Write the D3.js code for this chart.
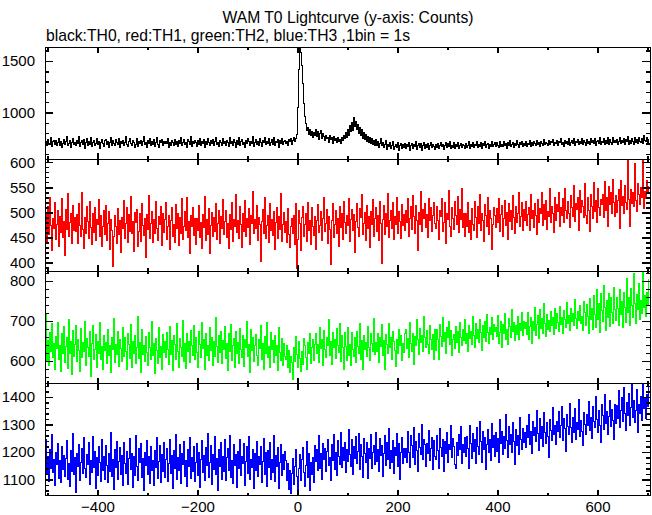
<!DOCTYPE html>
<html><head><meta charset="utf-8">
<script src="https://cdn.jsdelivr.net/npm/d3@7"></script>
<style>
body{margin:0;background:#fff}
svg{display:block}
text{font-family:"Liberation Sans",Arial,Helvetica,sans-serif}
</style>
</head><body>
<svg id="chart" width="652" height="515"></svg>
<script>
// ---- data: 2 s bins starting at t = -504 s (values read/estimated from the reference) ----
const binStart = -504;
const binWidth = 2;

const th0 = [
715,681,741,701,691,757,669,720,729,695,733,676,711,748,685,723,663,704,739,688,716,764,678,698,725,659,709,744,691,713,
680,729,698,765,671,712,734,690,736,656,706,744,683,719,694,754,667,713,732,678,701,753,687,723,653,708,737,697,674,727,
740,688,722,664,709,761,684,725,699,676,737,708,691,750,660,718,697,730,681,713,771,694,671,720,746,702,684,733,709,666,
690,747,670,715,702,734,677,723,768,687,709,666,727,697,746,680,716,692,739,674,712,757,695,657,725,705,741,683,719,699,
720,698,751,662,711,685,732,706,678,743,694,719,670,725,702,755,683,712,736,687,706,662,740,715,691,765,674,722,699,733,
705,673,726,695,748,680,715,699,737,663,718,688,753,706,676,729,697,741,684,722,760,692,711,667,730,713,680,747,698,718,
685,734,709,674,754,701,722,681,739,712,664,727,695,762,677,716,740,690,708,659,732,697,750,715,683,723,702,768,671,711,
737,692,718,680,744,705,669,729,709,755,687,720,698,747,676,713,736,695,758,684,719,706,741,666,725,701,751,690,715,733,
702,723,684,736,715,747,695,732,755,720,752,790,1050,1420,1635,1580,1460,1280,1090,960,892,828,851,787,836,774,819,758,806,781,
835,768,812,742,796,826,753,801,768,731,779,745,760,712,774,738,755,703,766,727,749,714,758,722,741,698,763,731,776,744,
802,758,836,781,871,812,899,830,952,861,913,834,881,796,852,775,833,752,808,741,789,722,771,708,758,697,744,689,731,676,
735,682,717,663,701,753,676,708,658,693,726,645,689,668,705,651,683,718,641,675,694,659,710,634,677,700,652,687,665,703,
650,686,667,711,637,678,699,654,690,669,721,644,681,703,660,696,633,676,710,653,688,664,700,643,682,707,657,692,672,646,
693,661,700,650,682,713,667,689,642,678,705,657,696,674,717,649,685,665,707,654,692,672,712,647,681,699,663,695,679,653,
699,665,684,717,653,691,672,706,657,695,679,721,661,688,668,712,649,698,681,724,664,686,702,656,693,675,716,667,689,705,
670,705,682,660,716,675,695,667,720,685,702,656,707,679,726,671,692,712,663,700,681,730,689,665,710,686,717,674,698,685,
719,673,702,690,727,667,709,684,715,697,676,733,692,708,670,722,699,683,739,688,713,702,678,729,694,718,705,741,681,711,
696,730,683,718,706,744,689,713,675,734,702,721,693,749,685,714,727,697,753,678,717,707,737,688,723,700,746,692,731,710,
678,737,702,720,690,752,709,727,696,745,683,716,732,700,758,692,721,710,748,688,725,704,755,695,735,714,690,760,706,730,
707,738,689,720,760,697,729,713,752,686,735,715,767,694,727,704,745,721,692,756,711,741,701,762,724,708,750,699,773,731,
718,762,702,742];

const th1 = [
498,441,512,456,530,473,423,487,468,519,445,476,503,432,491,460,527,449,482,414,505,466,538,452,480,497,437,514,463,489,
462,495,437,518,474,452,540,466,428,489,458,511,481,447,522,470,436,497,459,509,443,486,475,526,451,493,431,472,504,455,
513,444,478,501,426,486,463,392,451,494,472,438,507,455,483,419,490,468,524,447,477,509,440,496,462,532,457,482,421,499,
479,506,431,461,498,442,517,473,454,488,410,495,466,534,448,477,502,439,485,457,521,468,444,491,475,512,433,497,460,486,
520,446,471,493,425,484,509,452,476,440,515,467,498,433,489,458,527,445,472,501,464,530,449,482,418,493,471,510,453,487,
436,488,463,514,449,479,427,496,470,532,443,485,456,508,418,474,499,451,490,462,517,445,478,503,437,492,468,526,455,481,
504,450,477,428,495,466,519,441,486,472,535,459,483,447,511,475,430,497,461,524,452,488,469,507,436,493,478,542,457,485,
467,513,444,490,475,402,482,506,458,529,447,473,494,439,518,464,486,453,501,425,479,510,448,491,466,537,442,476,499,460,
481,440,507,455,429,472,488,458,494,436,518,387,445,503,477,423,489,512,452,476,498,441,520,464,484,435,509,471,453,492,
426,483,516,459,474,501,444,487,530,461,478,506,437,492,466,395,483,518,449,475,503,457,488,431,512,469,497,446,521,480,
458,493,474,527,441,486,505,463,496,420,482,517,470,451,508,489,535,456,477,499,443,514,468,491,430,502,476,525,452,487,
509,462,494,443,521,478,398,486,513,455,497,471,538,450,483,504,467,519,445,492,476,530,458,501,482,447,516,473,495,464,
503,479,527,452,488,511,466,534,491,457,514,483,423,499,476,541,462,506,487,518,470,495,449,528,484,509,461,493,520,477,
468,512,483,445,503,491,528,462,479,519,437,497,485,543,471,452,510,488,466,522,494,476,531,459,505,486,547,470,498,452,
497,471,520,459,483,446,508,475,463,522,489,450,511,477,535,464,498,483,442,516,493,471,530,456,504,487,425,475,510,494,
469,507,480,528,461,495,514,452,487,523,473,500,445,518,482,504,466,533,490,458,512,479,497,540,471,492,519,464,505,484,
521,474,496,510,463,535,488,504,470,518,493,455,526,480,507,498,540,473,515,486,524,466,502,492,548,479,511,497,459,529,
484,516,501,539,472,510,493,527,480,548,504,487,521,498,470,534,509,492,553,482,518,505,529,463,543,500,524,511,489,557,
494,478,529,503,461,536,512,487,559,501,524,480,548,509,493,526,516,535,490,561,504,529,471,552,515,539,498,566,520,492,
534,500,523,546,468,563,514,532,497,553,520,505,606,526,472,545,518,539,511,598,524,501,557,535,516,550,529,612,508,542,
528,563,540,551];

const th2 = [
720,601,652,588,671,623,694,610,645,579,662,631,697,605,640,574,668,618,686,597,636,659,582,703,620,648,566,677,612,641,
690,598,655,627,575,681,609,646,624,700,590,657,633,612,674,561,643,688,604,628,666,585,650,619,696,603,637,578,664,626,
647,593,680,615,639,571,660,629,706,596,642,617,675,587,653,632,600,684,611,658,624,578,669,641,607,692,583,650,620,663,
594,634,711,606,646,572,679,616,638,599,661,621,589,672,635,604,698,614,643,568,656,627,594,683,610,637,579,666,622,648,
608,671,630,592,687,617,652,576,663,641,603,694,625,585,657,634,612,702,598,645,581,668,623,650,596,677,639,613,690,604,
659,621,584,673,642,609,697,631,654,579,668,615,640,601,685,627,660,588,649,612,709,636,597,664,622,675,593,651,629,686,
606,645,577,668,624,691,602,638,657,583,674,619,646,595,682,628,609,663,587,653,634,700,611,642,571,679,626,658,599,640,
667,615,590,654,632,688,604,643,578,661,620,697,608,636,584,672,629,651,597,665,613,639,576,683,622,602,656,589,644,611,
603,640,585,626,571,612,596,553,634,598,661,617,583,649,606,573,625,592,657,638,610,580,646,619,668,594,633,655,601,642,
668,619,642,596,685,631,654,588,677,628,609,660,639,703,615,648,592,671,633,655,607,682,640,621,694,598,663,635,579,672,
636,601,684,615,642,588,671,629,611,660,597,674,637,619,695,605,652,580,663,628,646,612,686,634,601,669,643,623,707,616,
647,623,670,596,658,636,691,614,651,578,666,641,619,695,633,660,605,674,649,627,586,653,618,680,639,665,602,645,622,669,
678,631,656,609,697,645,623,669,591,661,638,703,654,616,682,647,665,624,711,658,633,676,642,619,689,653,628,666,604,680,
627,679,654,605,691,662,636,708,649,671,620,684,658,699,642,676,615,653,667,631,686,646,673,622,697,659,638,680,652,704,
644,669,623,688,657,675,641,712,663,634,693,656,679,647,705,671,626,689,660,698,650,717,672,643,684,666,709,654,691,675,
684,662,713,645,671,700,634,691,668,719,653,678,642,707,686,660,728,674,696,651,689,666,711,655,694,677,722,663,700,681,
697,667,722,653,686,709,644,700,676,735,663,691,714,657,728,682,706,669,743,695,661,717,680,702,673,724,689,708,666,731,
682,718,697,675,737,691,708,670,727,703,684,746,695,713,677,732,699,720,688,754,706,681,725,702,739,694,712,677,748,721,
690,741,712,668,756,703,731,679,763,717,684,779,705,744,672,770,726,698,788,733,676,752,709,769,687,759,721,695,783,728,
702,758,731,690,779,716,749,684,771,735,697,806,722,760,688,781,739,709,818,745,693,767,728,795,705,752,719,826,734,763,
712,771,739,803];

const th3 = [
1245,1118,1183,1092,1210,1140,1262,1125,1171,1078,1198,1153,1231,1104,1167,1089,1220,1135,1188,1110,1176,1241,1098,1159,1074,1205,1130,1266,1117,1180,
1051,1193,1146,1228,1095,1162,1213,1121,1251,1139,1107,1190,1155,1236,1083,1169,1124,1257,1142,1201,1068,1178,1115,1219,1160,1093,1247,1133,1185,1101,
1224,1150,1087,1196,1128,1270,1112,1173,1062,1208,1144,1238,1099,1165,1216,1119,1187,1076,1233,1157,1123,1203,1081,1175,1249,1136,1194,1070,1182,1113,
1259,1148,1096,1211,1163,1229,1106,1177,1058,1199,1151,1240,1116,1184,1085,1221,1131,1170,1079,1206,1143,1254,1102,1166,1225,1090,1189,1127,1235,1108,
1172,1214,1093,1158,1247,1120,1186,1067,1204,1141,1263,1099,1179,1132,1226,1084,1193,1154,1238,1111,1168,1075,1209,1147,1252,1103,1181,1129,1219,1091,
1160,1232,1115,1197,1071,1174,1243,1126,1188,1097,1215,1152,1268,1108,1163,1222,1082,1191,1137,1255,1119,1176,1060,1207,1145,1234,1100,1183,1128,1246,
1094,1178,1212,1134,1261,1105,1169,1086,1227,1149,1192,1072,1201,1139,1244,1113,1185,1157,1230,1077,1166,1218,1122,1256,1098,1174,1143,1209,1065,1195,
1131,1239,1110,1182,1153,1221,1089,1164,1250,1117,1197,1074,1206,1142,1233,1101,1171,1125,1258,1092,1186,1147,1215,1068,1161,1227,1114,1190,1137,1203,
1168,1097,1158,1063,1134,1048,1121,1176,1082,1145,1207,1111,1043,1138,1190,1094,1172,1215,1126,1075,1149,1237,1105,1196,1058,1160,1118,1181,1087,1222,
1164,1209,1132,1258,1141,1194,1100,1230,1173,1212,1128,1201,1246,1152,1179,1095,1226,1167,1263,1137,1198,1114,1240,1185,1155,1272,1143,1217,1170,1234,
1124,1207,1165,1281,1190,1146,1244,1118,1219,1176,1256,1158,1202,1267,1135,1228,1183,1108,1249,1194,1161,1236,1102,1213,1177,1262,1140,1199,1225,1153,
1271,1166,1210,1129,1248,1188,1224,1112,1196,1259,1150,1233,1174,1284,1138,1205,1163,1242,1120,1217,1186,1266,1145,1229,1101,1198,1253,1157,1214,1178,
1213,1161,1276,1199,1142,1258,1223,1180,1290,1153,1237,1204,1127,1268,1216,1189,1301,1171,1245,1226,1148,1232,1194,1279,1167,1211,1253,1136,1241,1185,
1171,1258,1205,1141,1287,1216,1183,1245,1127,1237,1196,1272,1161,1226,1209,1295,1178,1250,1218,1153,1140,1236,1188,1264,1210,1292,1159,1227,1198,1254,
1182,1257,1214,1141,1296,1232,1175,1268,1203,1247,1156,1289,1220,1190,1311,1238,1163,1274,1209,1251,1137,1226,1283,1198,1244,1170,1302,1216,1259,1185,
1269,1201,1248,1162,1317,1230,1273,1189,1256,1214,1338,1243,1178,1291,1226,1265,1197,1309,1238,1154,1281,1222,1259,1191,1326,1247,1208,1284,1233,1270,
1215,1297,1252,1336,1228,1274,1193,1311,1260,1289,1237,1352,1266,1205,1323,1248,1291,1219,1344,1271,1232,1306,1257,1180,1318,1279,1243,1361,1262,1296,
1226,1312,1275,1349,1251,1298,1367,1240,1321,1285,1203,1338,1293,1262,1375,1289,1234,1327,1270,1358,1245,1306,1282,1391,1257,1316,1273,1222,1343,1299,
1264,1337,1296,1382,1278,1324,1249,1365,1310,1288,1401,1319,1271,1352,1297,1236,1374,1331,1283,1409,1305,1347,1262,1328,1389,1292,1356,1316,1244,1371,
1303,1368,1321,1424,1289,1352,1397,1312,1436,1340,1278,1381,1334,1413,1298,1362,1445,1325,1386,1307,1351,1428,1271,1374,1339,1402,1316,1447,1358,1393,
1322,1411,1365,1438];

const seriesNames = ["TH0","TH1","TH2","TH3"];
const seriesValues = [th0, th1, th2, th3];
const seriesColors = ["#000000","#ff0000","#00ff00","#0000ff"];
const yDomains = [[548,1635],[382,606],[544,824],[1040,1449]];
const yMajorTicks = [[1000,1500],[400,450,500,550,600],[600,700,800],[1100,1200,1300,1400]];
const yMinorTicks = [
  [600,700,800,900,1100,1200,1300,1400,1600],
  [390,410,420,430,440,460,470,480,490,510,520,530,540,560,570,580,590],
  [560,580,620,640,660,680,720,740,760,780,820],
  [1060,1080,1120,1140,1160,1180,1220,1240,1260,1280,1320,1340,1360,1380,1420,1440]
];
const xMajorTicks = [-400,-200,0,200,400,600];
const xMinorTicks = [-500,-300,-100,100,300,500,700];
const xDomain = [-505, 705];
const titleText = "WAM T0 Lightcurve (y-axis: Counts)";
const subtitleText = "black:TH0, red:TH1, green:TH2, blue:TH3 ,1bin = 1s";

// ---- layout ----
const left = 45, right = 650, top0 = 47, panelH = 112.2;
const svg = d3.select("#chart");
const x = d3.scaleLinear().domain(xDomain).range([left, right]);

svg.append("text").attr("x", 348).attr("y", 23).attr("text-anchor","middle")
  .attr("font-size", 15.7).text(titleText);
svg.append("text").attr("x", 46).attr("y", 41)
  .attr("font-size", 15.7).text(subtitleText);

function styleAxis(g, sw){
  g.select(".domain").remove();
  g.selectAll(".tick line").attr("stroke","#000").attr("stroke-width", sw).attr("shape-rendering","crispEdges");
  g.selectAll("text").attr("font-family",'"Liberation Sans",Arial,sans-serif').attr("font-size",15).attr("fill","#000");
}

seriesValues.forEach((vals, p) => {
  const y0 = top0 + p*panelH, y1 = y0 + panelH;
  const y = d3.scaleLinear().domain(yDomains[p]).range([y1, y0]);
  const clipId = "clip" + p;
  svg.append("clipPath").attr("id", clipId).append("rect")
    .attr("x", left).attr("y", y0).attr("width", right-left).attr("height", panelH);

  const data = vals.map((v,i) => ({t: binStart + i*binWidth, v}));
  const line = d3.line().x(d => x(d.t)).y(d => y(d.v)).curve(d3.curveStep);
  svg.append("path").datum(data)
    .attr("clip-path", `url(#${clipId})`)
    .attr("fill","none").attr("stroke", seriesColors[p]).attr("stroke-width", 1)
    .attr("shape-rendering","crispEdges")
    .attr("d", line);

  // frame
  svg.append("rect").attr("x", left).attr("y", y0).attr("width", right-left).attr("height", panelH)
    .attr("fill","none").attr("stroke","#000").attr("stroke-width",1).attr("shape-rendering","crispEdges");

  // x ticks, bottom & top (inward)
  const gb = svg.append("g").attr("transform",`translate(0,${y1})`)
    .call(d3.axisBottom(x).tickValues(xMajorTicks).tickSize(-6).tickPadding(5)
      .tickFormat(p === 3 ? d3.format("d") : ""));
  styleAxis(gb, 2);
  gb.selectAll("text").attr("dy","0.75em");
  styleAxis(svg.append("g").attr("transform",`translate(0,${y1})`)
    .call(d3.axisBottom(x).tickValues(xMinorTicks).tickSize(-3).tickFormat("")), 2);
  styleAxis(svg.append("g").attr("transform",`translate(0,${y0})`)
    .call(d3.axisTop(x).tickValues(xMajorTicks).tickSize(-6).tickFormat("")), 2);
  styleAxis(svg.append("g").attr("transform",`translate(0,${y0})`)
    .call(d3.axisTop(x).tickValues(xMinorTicks).tickSize(-3).tickFormat("")), 2);

  // y ticks, left & right (inward)
  styleAxis(svg.append("g").attr("transform",`translate(${left},0)`)
    .call(d3.axisLeft(y).tickValues(yMajorTicks[p]).tickSize(-8).tickPadding(10).tickFormat(d3.format("d"))), 1.5);
  styleAxis(svg.append("g").attr("transform",`translate(${left},0)`)
    .call(d3.axisLeft(y).tickValues(yMinorTicks[p]).tickSize(-4).tickFormat("")), 1.5);
  styleAxis(svg.append("g").attr("transform",`translate(${right},0)`)
    .call(d3.axisRight(y).tickValues(yMajorTicks[p]).tickSize(-8).tickFormat("")), 1.5);
  styleAxis(svg.append("g").attr("transform",`translate(${right},0)`)
    .call(d3.axisRight(y).tickValues(yMinorTicks[p]).tickSize(-4).tickFormat("")), 1.5);
});
</script>
</body></html>
